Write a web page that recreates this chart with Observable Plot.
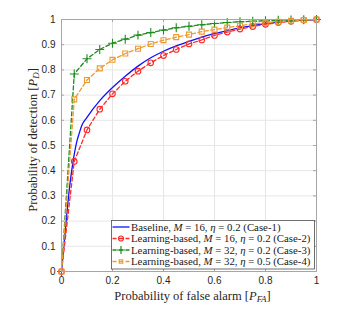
<!DOCTYPE html>
<html>
<head>
<meta charset="utf-8">
<script src="https://cdn.jsdelivr.net/npm/d3@7"></script>
<script src="https://cdn.jsdelivr.net/npm/@observablehq/plot@0.6"></script>
<style>
  html, body { margin: 0; padding: 0; background: #fff; }
  #chart { width: 357px; height: 311px; }
</style>
</head>
<body>
<div id="chart"></div>
<script>
// ---- data ----
const pfa = [0, 0.05, 0.1, 0.15, 0.2, 0.25, 0.3, 0.35, 0.4, 0.45, 0.5, 0.55, 0.6, 0.65, 0.7, 0.75, 0.8, 0.85, 0.9, 0.95, 1.0];
const case2 = [0, 0.437, 0.562, 0.644, 0.705, 0.755, 0.795, 0.828, 0.857, 0.881, 0.903, 0.919, 0.937, 0.950, 0.962, 0.972, 0.981, 0.988, 0.993, 0.998, 1.0];
const case3 = [0, 0.784, 0.844, 0.881, 0.906, 0.922, 0.938, 0.948, 0.958, 0.967, 0.973, 0.979, 0.984, 0.988, 0.991, 0.993, 0.995, 0.997, 0.998, 0.999, 1.0];
const case4 = [0, 0.683, 0.760, 0.806, 0.840, 0.865, 0.884, 0.903, 0.918, 0.930, 0.940, 0.952, 0.960, 0.968, 0.975, 0.983, 0.987, 0.991, 0.995, 0.998, 1.0];
const baseX = [0, 0.01, 0.02, 0.03, 0.04, 0.05, 0.06, 0.07, 0.08, 0.1, 0.15, 0.2, 0.25, 0.3, 0.35, 0.4, 0.45, 0.5, 0.55, 0.6, 0.65, 0.7, 0.75, 0.8, 0.85, 0.9, 0.95, 1.0];
const baseY = [0, 0.11, 0.22, 0.32, 0.40, 0.465, 0.515, 0.55, 0.58, 0.612, 0.678, 0.730, 0.775, 0.815, 0.848, 0.874, 0.895, 0.913, 0.930, 0.944, 0.956, 0.967, 0.976, 0.984, 0.990, 0.995, 0.998, 1.0];
const xTicks = [0, 0.2, 0.4, 0.6, 0.8, 1];
const yTicks = [0, 0.1, 0.2, 0.3, 0.4, 0.5, 0.6, 0.7, 0.8, 0.9, 1];
const legendNames = ["Baseline", "Learning-based", "Learning-based", "Learning-based"];
const legendM = ["16", "16", "32", "32"];
const legendEta = ["0.2", "0.2", "0.2", "0.5"];
const legendCase = ["(Case-1)", "(Case-2)", "(Case-3)", "(Case-4)"];

// ---- styles ----
const colors = ["#1010ff", "#ff2a2a", "#1f8c1f", "#ee9a30"];
const symbols = [null, "circle", "plus", "square"];
const dash = "4,2.5";
const serif = "'Liberation Serif', 'Times New Roman', serif";
const sans = "'Liberation Sans', Arial, sans-serif";

const W = 357, H = 311, mL = 61, mR = 41, mT = 19, mB = 40;
const pw = W - mL - mR, ph = H - mT - mB;

const base = baseX.map((x, i) => ({x, y: baseY[i]}));
const series = [case2, case3, case4].map(vals => pfa.map((x, i) => ({x, y: vals[i]})));

const marks = [
  Plot.gridX(xTicks, {stroke: "#e6e6e6", strokeOpacity: 1}),
  Plot.gridY(yTicks, {stroke: "#e6e6e6", strokeOpacity: 1}),
  Plot.line(base, {x: "x", y: "y", stroke: colors[0], strokeWidth: 1.3, curve: "monotone-x"})
];
series.forEach((s, k) => {
  marks.push(Plot.line(s, {x: "x", y: "y", stroke: colors[k + 1], strokeWidth: 1.3, strokeDasharray: dash}));
});
series.forEach((s, k) => {
  marks.push(Plot.dot(s, {x: "x", y: "y", stroke: colors[k + 1], fill: "none", strokeWidth: 1.1,
    symbol: symbols[k + 1], r: k === 0 ? 2.8 : (k === 1 ? 3 : 2.8)}));
});
marks.push(
  Plot.frame({stroke: "#a6a6a6", strokeWidth: 1}),
  Plot.ruleX(xTicks, {x: d => d, insetTop: ph - 3, stroke: "#a6a6a6"}),
  Plot.ruleX(xTicks, {x: d => d, insetBottom: ph - 3, stroke: "#a6a6a6"}),
  Plot.ruleY(yTicks, {y: d => d, insetRight: pw - 3, stroke: "#a6a6a6"}),
  Plot.ruleY(yTicks, {y: d => d, insetLeft: pw - 3, stroke: "#a6a6a6"}),
  Plot.axisX(xTicks, {tickSize: 0, tickPadding: 5, fontSize: 10, fontFamily: sans, fill: "#262626", label: null, tickFormat: d => String(d)}),
  Plot.axisY(yTicks, {tickSize: 0, tickPadding: 6, fontSize: 10, fontFamily: sans, fill: "#262626", label: null, tickFormat: d => String(d)})
);

const plot = Plot.plot({
  width: W, height: H,
  marginLeft: mL, marginRight: mR, marginTop: mT, marginBottom: mB,
  x: {domain: [0, 1]},
  y: {domain: [0, 1]},
  style: {background: "white", overflow: "visible"},
  marks
});
document.getElementById("chart").appendChild(plot);

const svg = d3.select(plot);

// axis labels
const xl = svg.append("text")
  .attr("x", mL + pw / 2 + 4).attr("y", 300)
  .attr("text-anchor", "middle")
  .attr("font-family", serif).attr("font-size", 12.5).attr("fill", "#262626");
xl.append("tspan").text("Probability of false alarm [");
xl.append("tspan").attr("font-style", "italic").text("P");
xl.append("tspan").attr("font-style", "italic").attr("font-size", 9).attr("dy", 2).text("FA");
xl.append("tspan").attr("dy", -2).text("]");

const yl = svg.append("text")
  .attr("transform", `translate(37,${mT + ph / 2 - 5}) rotate(-90)`)
  .attr("text-anchor", "middle")
  .attr("font-family", serif).attr("font-size", 12.5).attr("fill", "#262626");
yl.append("tspan").text("Probability of detection [");
yl.append("tspan").attr("font-style", "italic").text("P");
yl.append("tspan").attr("font-style", "italic").attr("font-size", 9).attr("dy", 2).text("D");
yl.append("tspan").attr("dy", -2).text("]");

// legend
const lg = svg.append("g").attr("text-anchor", "start");
const bx = 111.5, by = 220.5, bw = 203, bh = 48.5;
lg.append("rect").attr("x", bx).attr("y", by).attr("width", bw).attr("height", bh)
  .attr("fill", "white").attr("stroke", "#4d4d4d").attr("stroke-width", 0.8);
const sym = d3.scaleOrdinal().domain(["circle", "plus", "square"]).range([d3.symbolCircle, d3.symbolPlus, d3.symbolSquare2]);
legendNames.forEach((name, i) => {
  const yy = by + 6.5 + i * 11.5;
  lg.append("line").attr("x1", bx + 1).attr("x2", bx + 18).attr("y1", yy).attr("y2", yy)
    .attr("stroke", colors[i]).attr("stroke-width", 1.3)
    .attr("stroke-dasharray", i === 0 ? null : dash);
  if (symbols[i]) {
    const size = symbols[i] === "plus" ? 24 : (symbols[i] === "circle" ? 20 : 16);
    lg.append("path").attr("d", d3.symbol(sym(symbols[i]), size)())
      .attr("transform", `translate(${bx + 9.5},${yy})`)
      .attr("fill", "none").attr("stroke", colors[i]).attr("stroke-width", 1.2);
  }
  const t = lg.append("text").attr("x", bx + 19.5).attr("y", yy + 3.8)
    .attr("text-anchor", "start")
    .attr("font-family", serif).attr("font-size", 10.8).attr("fill", "#1a1a1a");
  t.append("tspan").text(name + ", ");
  t.append("tspan").attr("font-style", "italic").text("M");
  t.append("tspan").text(" = " + legendM[i] + ", ");
  t.append("tspan").attr("font-style", "italic").text("η");
  t.append("tspan").text(" = " + legendEta[i] + " " + legendCase[i]);
});
</script>
</body>
</html>
